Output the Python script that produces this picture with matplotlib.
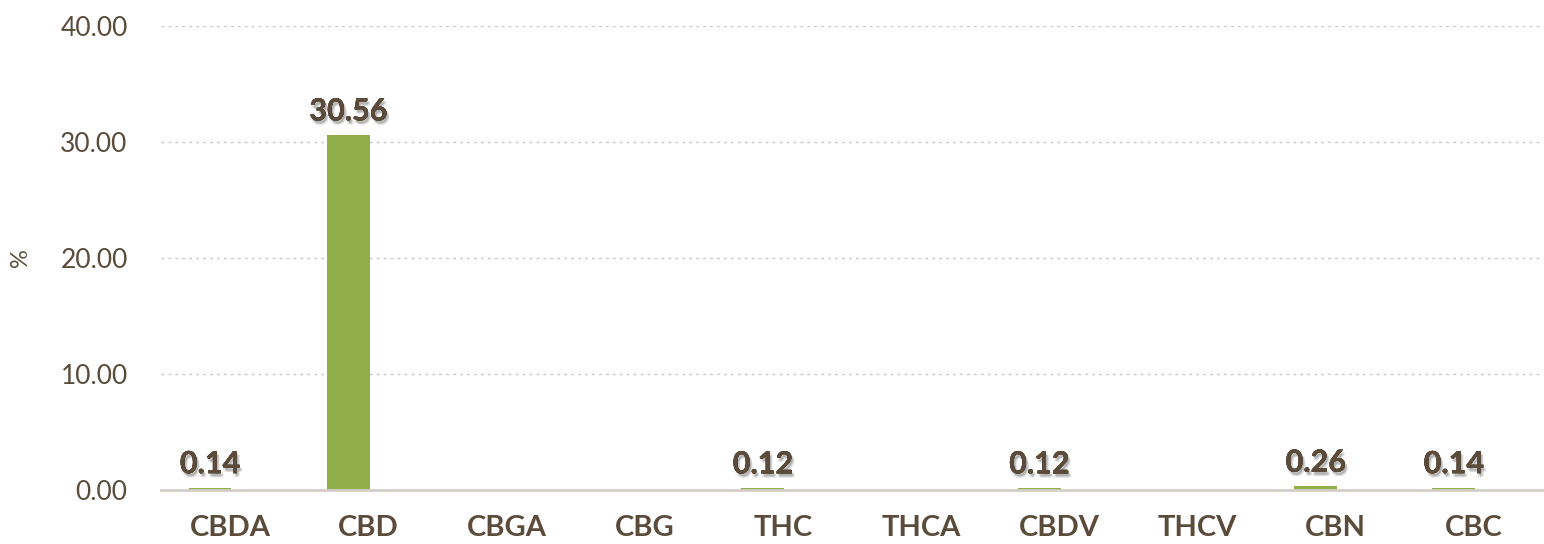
import numpy as np
import matplotlib
matplotlib.use("Agg")
import matplotlib.pyplot as plt
import matplotlib.patheffects as pe

# cannabinoid profile, percent
categories = ['CBDA', 'CBD', 'CBGA', 'CBG', 'THC', 'THCA', 'CBDV', 'THCV', 'CBN', 'CBC']
values = [0.14, 30.56, 0.0, 0.0, 0.12, 0.0, 0.12, 0.0, 0.26, 0.14]
yticks = [0, 10, 20, 30, 40]

TEXT = '#5a4b3b'
GREEN = '#8fae4a'

plt.rcParams['font.family'] = ['Lato', 'DejaVu Sans']

fig = plt.figure(figsize=(15.44, 5.44), dpi=100)
ax = fig.add_axes([161 / 1544, 1 - 489.5 / 544, 1382 / 1544, (489.5 - 25.7) / 544])

x = np.arange(len(categories))
offset = -0.145
bars = ax.bar(x + offset, values, width=0.31, color=GREEN, zorder=2)

# soft drop shadow: a few faint offset copies
shadow = [pe.withSimplePatchShadow(offset=(dx, dy), shadow_rgbFace='#000000', alpha=0.07)
          for dx, dy in [(1, -2), (2, -3), (0.5, -3), (1.5, -1.5), (2, -2.5)]]
shadow.append(pe.Normal())
for xi, v in zip(x, values):
    if v <= 0:
        continue
    ax.annotate(f'{v:.2f}', (xi + offset, v), xytext=(0, 7), textcoords='offset points',
                ha='center', va='bottom', fontsize=22, fontweight='bold', color=TEXT,
                path_effects=shadow, zorder=3)

ax.set_xlim(-0.5, len(categories) - 0.5)
ax.set_ylim(0, 40)
ax.set_xticks(x)
ax.set_xticklabels(categories, fontsize=21, fontweight='bold', color=TEXT)
ax.set_yticks(yticks)
ax.set_yticklabels([f'{t:.2f}' for t in yticks], fontsize=19, color=TEXT)
ax.tick_params(axis='both', length=0)
ax.tick_params(axis='x', pad=18)
ax.tick_params(axis='y', pad=24)

ax.grid(axis='y', color='#c8c8c8', linestyle=(0, (2, 3)), linewidth=1, zorder=0)
for side in ['top', 'right', 'left']:
    ax.spines[side].set_visible(False)
ax.spines['bottom'].set_color('#d3cec6')
ax.spines['bottom'].set_linewidth(2)

fig.text(20 / 1544, 1 - 258 / 544, '%', rotation=90, ha='center', va='center',
         fontsize=17, color=TEXT)

fig.savefig('out.png', dpi=100, facecolor='white')
